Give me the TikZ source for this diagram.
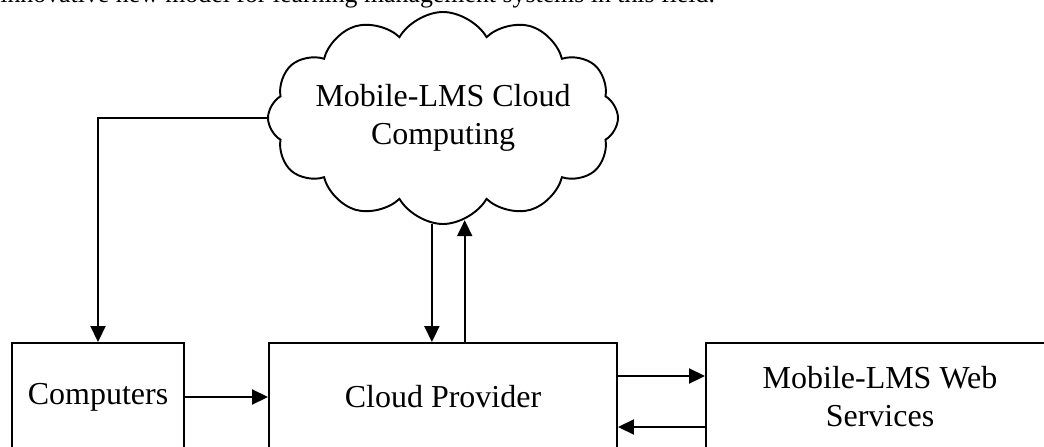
\documentclass[tikz,border=0pt]{standalone}
\usepackage{fontspec}
\setmainfont{Liberation Serif}
\usetikzlibrary{arrows.meta,shapes.symbols}

\begin{document}
\begin{tikzpicture}
\useasboundingbox (0,0) rectangle (20.88,-8.92);

\node[anchor=base west,inner sep=0pt,font=\fontsize{14.7}{17}\selectfont] (intro) at (0,-0.04) {innovative new model for learning management systems in this field.};

\begin{scope}[every node/.style={draw,line width=1.1pt,align=center,font=\fontsize{18.2}{21.6}\selectfont}]
    \node[cloud,cloud puffs=12,cloud puff arc=120,aspect=1.65,minimum width=7cm,minimum height=4.24cm,inner xsep=-2.4cm,inner ysep=-0.6cm] (cloud) at (8.86,-2.36) {Mobile-LMS Cloud\\Computing};
    \node[minimum width=3.44cm,minimum height=2.16cm] (comp) at (1.96,-7.94) {Computers};
    \node[minimum width=6.96cm,minimum height=2.16cm] (prov) at (8.86,-7.94) {Cloud Provider};
    \node[minimum width=6.96cm,minimum height=2.16cm] (web)  at (17.6,-7.94) {Mobile-LMS Web\\Services};
\end{scope}

\begin{scope}[>={Triangle[length=0.32cm,width=0.3cm]}, line width=1.1pt]
    \draw[->] (cloud.west) -| (comp.north);
    \draw[->] (comp) -- (prov);
    \draw[->] (cloud.264) -- (cloud.264 |- prov.north);
    \draw[->] (cloud.282 |- prov.north) -- (cloud.282);
    \draw[->] ([yshift=0.42cm]prov.east) -- ([yshift=0.42cm]web.west);
    \draw[->] ([yshift=-0.6cm]web.west) -- ([yshift=-0.6cm]prov.east);
\end{scope}
\end{tikzpicture}
\end{document}
